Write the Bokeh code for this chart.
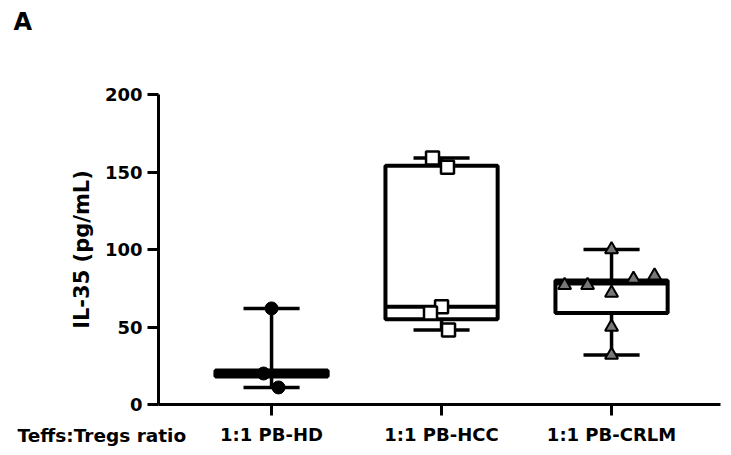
from bokeh.plotting import figure
from bokeh.models import Range1d, FixedTicker, Label, ColumnDataSource
from bokeh.embed import file_html
from bokeh.resources import INLINE

# ---- data ----
groups = ["1:1 PB-HD", "1:1 PB-HCC", "1:1 PB-CRLM"]
group_pos = [1, 2, 3]

# box statistics
q1 = [18, 55, 59]
median = [20, 63, 78]
q3 = [22, 154, 80]
w_min = [11, 48, 32]
w_max = [62, 159, 100]

# individual points
hd_vals = [62, 20, 11]
hd_jit = [0.0, -0.047, 0.041]
hcc_vals = [159, 153, 63, 59, 48]
hcc_jit = [-0.053, 0.035, 0.0, -0.065, 0.041]
crlm_vals = [100, 83, 81, 77, 77, 72, 50, 32]
crlm_jit = [0.0, 0.253, 0.129, -0.276, -0.141, 0.0, 0.0, 0.0]

y_ticks = [0, 50, 100, 150, 200]
y_label = "IL-35 (pg/mL)"
x_title = "Teffs:Tregs ratio"
panel = "A"

FONT = "DejaVu Sans"
BOX_HW = 0.33
CAP_HW = 0.165
X_AX = (0.335, 3.641)   # visible extent of the x axis line
Y_AX = (0, 200)         # visible extent of the y axis line

# frame = whole canvas; axes are drawn at fixed data locations
p = figure(width=731, height=455, output_backend="svg", toolbar_location=None,
           x_range=Range1d(-0.5944, 3.7056), y_range=Range1d(-32.9, 260.65),
           min_border=0)
p.min_border_left = 0
p.min_border_right = 0
p.min_border_top = 0
p.min_border_bottom = 0
p.outline_line_color = None
p.xgrid.visible = False
p.ygrid.visible = False
p.background_fill_color = "white"
p.border_fill_color = "white"

# boxes
box_src = ColumnDataSource(dict(
    left=[g - BOX_HW for g in group_pos], right=[g + BOX_HW for g in group_pos],
    q1=q1, q3=q3))
p.quad(left="left", right="right", bottom="q1", top="q3", source=box_src,
       fill_color=None, line_color="black", line_width=4)
# median
p.segment(x0=[g - BOX_HW for g in group_pos], x1=[g + BOX_HW for g in group_pos],
          y0=median, y1=median, line_color="black", line_width=4)
# whiskers
p.segment(x0=group_pos, x1=group_pos, y0=q3, y1=w_max, line_color="black", line_width=3.5)
p.segment(x0=group_pos, x1=group_pos, y0=q1, y1=w_min, line_color="black", line_width=3.5)
# caps
p.segment(x0=[g - CAP_HW for g in group_pos], x1=[g + CAP_HW for g in group_pos],
          y0=w_max, y1=w_max, line_color="black", line_width=3.5)
p.segment(x0=[g - CAP_HW for g in group_pos], x1=[g + CAP_HW for g in group_pos],
          y0=w_min, y1=w_min, line_color="black", line_width=3.5)

# points
p.scatter(x=[group_pos[0] + j for j in hd_jit], y=hd_vals, marker="circle", size=13,
          fill_color="black", line_color="black", line_width=1)
p.scatter(x=[group_pos[1] + j for j in hcc_jit], y=hcc_vals, marker="square", size=13,
          fill_color="white", line_color="black", line_width=2.5)
p.scatter(x=[group_pos[2] + j for j in crlm_jit], y=crlm_vals, marker="triangle", size=13,
          fill_color="#777777", line_color="black", line_width=2)

# axes
for ax in (p.xaxis[0], p.yaxis[0]):
    ax.axis_line_width = 3
    ax.axis_line_color = "black"
    ax.major_tick_line_width = 3
    ax.major_tick_line_color = "black"
    ax.major_tick_in = 0
    ax.major_tick_out = 11
    ax.minor_tick_line_color = None
    ax.major_label_text_font = FONT
    ax.major_label_text_font_style = "bold"
    ax.major_label_text_color = "black"

p.yaxis[0].fixed_location = X_AX[0]
p.yaxis[0].bounds = Y_AX
p.yaxis[0].ticker = FixedTicker(ticks=y_ticks)
p.yaxis[0].major_label_text_font_size = "18px"
p.yaxis[0].major_label_standoff = 5
p.yaxis[0].axis_label = y_label
p.yaxis[0].axis_label_text_font = FONT
p.yaxis[0].axis_label_text_font_style = "bold"
p.yaxis[0].axis_label_text_font_size = "21px"
p.yaxis[0].axis_label_text_color = "black"
p.yaxis[0].axis_label_standoff = 8

p.xaxis[0].fixed_location = Y_AX[0]
p.xaxis[0].bounds = X_AX
p.xaxis[0].ticker = FixedTicker(ticks=group_pos)
p.xaxis[0].major_label_overrides = {g: name for g, name in zip(group_pos, groups)}
p.xaxis[0].major_label_text_font_size = "18px"
p.xaxis[0].major_label_standoff = 8

p.add_layout(Label(x=-0.494, y=-20, text=x_title,
                   text_font=FONT, text_font_style="bold", text_font_size="18.5px",
                   text_align="left", text_baseline="middle", text_color="black"))
p.add_layout(Label(x=-0.518, y=246.5, text=panel,
                   text_font=FONT, text_font_style="bold", text_font_size="24px",
                   text_align="left", text_baseline="middle", text_color="black"))

open("out.html", "w").write(file_html(p, INLINE))
